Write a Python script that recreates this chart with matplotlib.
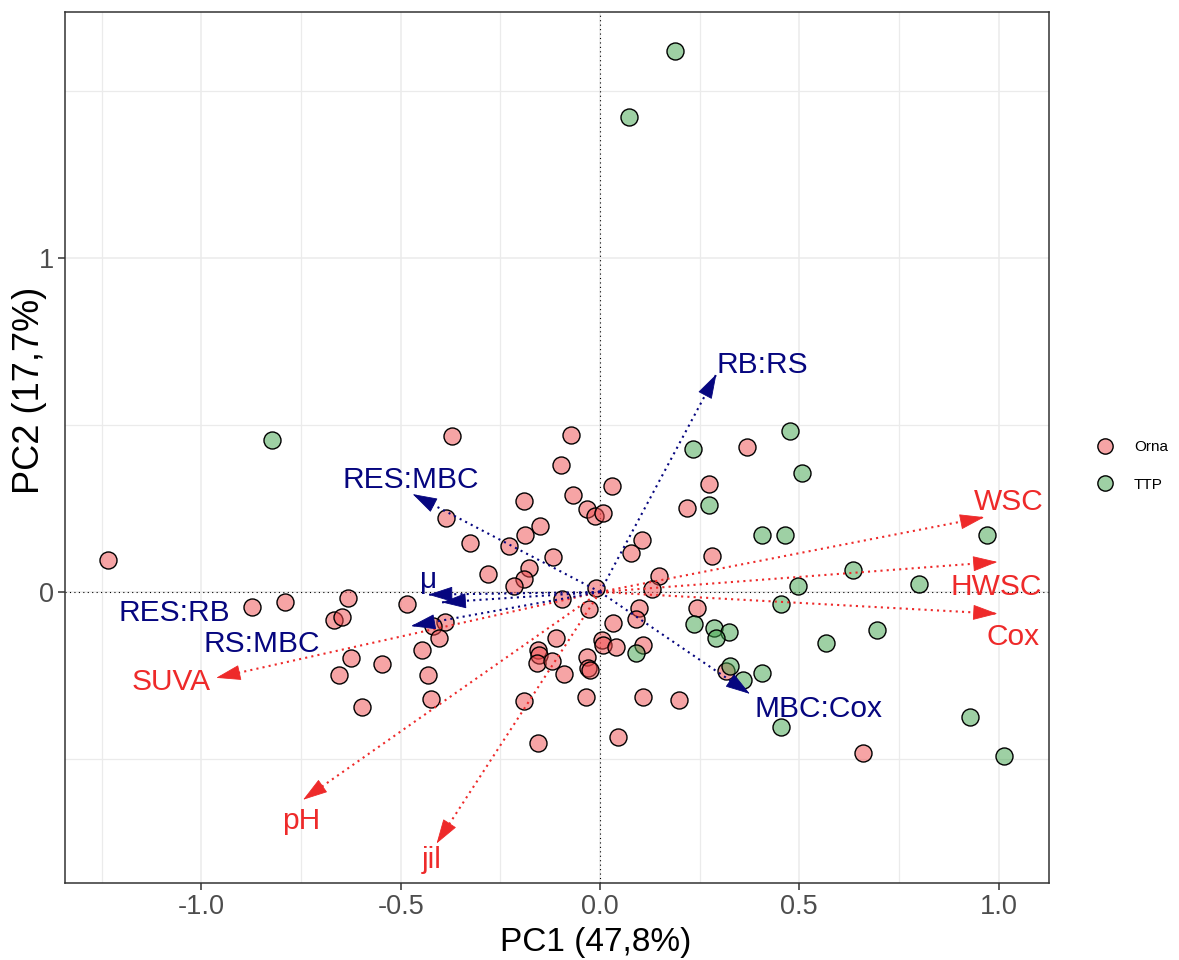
import math
import matplotlib
matplotlib.use('Agg')
import matplotlib.pyplot as plt
from matplotlib.lines import Line2D
from matplotlib.colors import to_rgba

plt.rcParams['font.family'] = ['Liberation Sans', 'DejaVu Sans']

# ---------------- data ----------------
orna_pc1 = [-1.235, -0.873, -0.790, -0.632, -0.668, -0.648, -0.485, -0.389, -0.419, -0.405,
            -0.447, -0.626, -0.548, -0.654, -0.432, -0.596, -0.423, -0.372, -0.074, -0.097,
            0.030, -0.067, -0.191, -0.033, -0.013, 0.007, -0.386, -0.151, -0.188, -0.325,
            -0.228, -0.119, -0.178, -0.191, -0.217, -0.282, -0.010, -0.096, -0.028, 0.368,
            0.274, 0.219, 0.106, 0.077, 0.280, 0.147, 0.131, 0.097, 0.091, 0.032,
            0.244, 0.005, 0.007, 0.041, 0.109, 0.315, 0.108, 0.197, 0.659, 0.046,
            -0.111, -0.155, -0.152, -0.159, -0.120, -0.091, -0.033, -0.029, -0.025, -0.191,
            -0.035, -0.155]
orna_pc2 = [0.097, -0.044, -0.029, -0.018, -0.083, -0.074, -0.035, -0.089, -0.102, -0.139,
            -0.175, -0.197, -0.215, -0.249, -0.250, -0.344, -0.320, 0.468, 0.469, 0.379,
            0.317, 0.289, 0.273, 0.247, 0.228, 0.236, 0.222, 0.199, 0.172, 0.146,
            0.138, 0.104, 0.072, 0.038, 0.018, 0.053, 0.013, -0.021, -0.050, 0.435,
            0.323, 0.250, 0.155, 0.116, 0.107, 0.047, 0.008, -0.049, -0.080, -0.092,
            -0.047, -0.143, -0.158, -0.166, -0.158, -0.236, -0.313, -0.322, -0.481, -0.435,
            -0.139, -0.174, -0.189, -0.214, -0.207, -0.247, -0.196, -0.228, -0.234, -0.327,
            -0.315, -0.453]

ttp_pc1 = [-0.824, 0.188, 0.074, 0.233, 0.478, 0.506, 0.274, 0.406, 0.465, 0.972,
           0.636, 0.498, 0.801, 0.454, 0.237, 0.285, 0.323, 0.291, 0.696, 0.566,
           0.090, 0.326, 0.360, 0.407, 0.454, 0.929, 1.015]
ttp_pc2 = [0.454, 1.620, 1.421, 0.429, 0.483, 0.355, 0.261, 0.170, 0.171, 0.171,
           0.066, 0.019, 0.023, -0.036, -0.096, -0.108, -0.120, -0.139, -0.114, -0.154,
           -0.183, -0.223, -0.263, -0.244, -0.403, -0.373, -0.491]

env_vars = ['WSC', 'HWSC', 'Cox', 'SUVA', 'pH', 'jil']
env_pc1 = [0.964, 0.997, 0.997, -0.963, -0.745, -0.410]
env_pc2 = [0.224, 0.090, -0.065, -0.257, -0.622, -0.753]

bio_vars = ['RB:RS', 'RES:MBC', 'MBC:Cox', 'μ', 'RES:RB', 'RS:MBC']
bio_pc1 = [0.292, -0.470, 0.376, -0.431, -0.397, -0.474]
bio_pc2 = [0.652, 0.293, -0.305, -0.008, -0.031, -0.102]

x_ticks = [-1.0, -0.5, 0.0, 0.5, 1.0]
x_tick_labels = ['-1.0', '-0.5', '0.0', '0.5', '1.0']
y_ticks = [0, 1]
y_tick_labels = ['0', '1']

# ---------------- layout / style ----------------
label_pos = {  # (x centre, baseline) in data coords
    'WSC': (1.026, 0.244), 'HWSC': (0.993, -0.009), 'Cox': (1.036, -0.159),
    'SUVA': (-1.077, -0.294), 'pH': (-0.750, -0.710), 'jil': (-0.423, -0.825),
    'RB:RS': (0.407, 0.657), 'RES:MBC': (-0.475, 0.311), 'MBC:Cox': (0.549, -0.373),
    'μ': (-0.431, 0.012), 'RES:RB': (-1.067, -0.088), 'RS:MBC': (-0.848, -0.181),
}
RED = '#EE2A2A'
BLUE = '#06067F'
ORNA = to_rgba('#EF4A4C', 0.5)
TTP = to_rgba('#3FA34A', 0.5)

W, H = 1179, 960
fig = plt.figure(figsize=(W / 100, H / 100), dpi=100)
L, R, T, B = 65, 1049, 12, 883
ax = fig.add_axes([L / W, 1 - B / H, (R - L) / W, (B - T) / H])
XLIM = (-1.3425, 1.1267)
YLIM = (-0.8713, 1.7365)
ax.set_xlim(*XLIM)
ax.set_ylim(*YLIM)
px_per_x = (R - L) / (XLIM[1] - XLIM[0])
px_per_y = (B - T) / (YLIM[1] - YLIM[0])

ax.set_xticks(x_ticks)
ax.set_xticklabels(x_tick_labels)
ax.set_yticks(y_ticks)
ax.set_yticklabels(y_tick_labels)
ax.set_xticks([-1.25, -0.75, -0.25, 0.25, 0.75], minor=True)
ax.set_yticks([-0.5, 0.5, 1.5], minor=True)
ax.tick_params(which='minor', length=0)
ax.tick_params(which='major', length=5, width=1.1, color='#333333',
               labelsize=19.5, labelcolor='#4D4D4D', pad=3)
ax.grid(which='major', color='#EBEBEB', lw=1.1)
ax.grid(which='minor', color='#EBEBEB', lw=0.9)
ax.set_axisbelow(True)
for s in ax.spines.values():
    s.set_color('#333333')
    s.set_linewidth(1.1)

ax.axhline(0, color='black', lw=0.8, ls=(0, (1, 3)), zorder=1.5)
ax.axvline(0, color='black', lw=0.8, ls=(0, (1, 3)), zorder=1.5)

ax.scatter(orna_pc1, orna_pc2, s=150, facecolors=[ORNA], edgecolors='black',
           linewidths=1.0, zorder=3)
ax.scatter(ttp_pc1, ttp_pc2, s=150, facecolors=[TTP], edgecolors='black',
           linewidths=1.0, zorder=3)

HEAD_PT = 16


def draw_arrows(names, xs, ys, color):
    for n, x, y in zip(names, xs, ys):
        # dotted shaft
        ax.plot([0, x], [0, y], color=color, lw=1.5, ls=(0, (1, 2)), zorder=4)
        # solid filled head
        dx, dy = x * px_per_x, y * px_per_y
        d = math.hypot(dx, dy)
        ux, uy = dx / d, dy / d
        ax.annotate('', xy=(x, y), xytext=(-ux * HEAD_PT, -uy * HEAD_PT),
                    textcoords='offset points', zorder=4,
                    arrowprops=dict(arrowstyle='-|>,head_length=0.8,head_width=0.25',
                                    mutation_scale=20, color=color, lw=0.6,
                                    shrinkA=0, shrinkB=0))
        lx, ly = label_pos[n]
        ax.text(lx, ly, n, color=color, fontsize=21.5, ha='center', va='baseline',
                zorder=5)


draw_arrows(env_vars, env_pc1, env_pc2, RED)
draw_arrows(bio_vars, bio_pc1, bio_pc2, BLUE)

fig.text(596 / W, 1 - 943 / H, 'PC1 (47,8%)', fontsize=24, ha='center', va='center')
fig.text(30 / W, 1 - 390 / H, 'PC2 (17,7%)', fontsize=26, ha='center', va='center',
         rotation=90)

handles = [Line2D([], [], marker='o', ls='', markersize=11, markerfacecolor=ORNA,
                  markeredgecolor='black', markeredgewidth=1.0),
           Line2D([], [], marker='o', ls='', markersize=11, markerfacecolor=TTP,
                  markeredgecolor='black', markeredgewidth=1.0)]
fig.legend(handles, ['Orna', 'TTP'], loc='center left',
           bbox_to_anchor=(1088 / W, 1 - 466 / H), frameon=False, fontsize=11,
           handlelength=1.2, handletextpad=1.3, labelspacing=1.55, borderpad=0)

fig.savefig('out.png', dpi=100)
